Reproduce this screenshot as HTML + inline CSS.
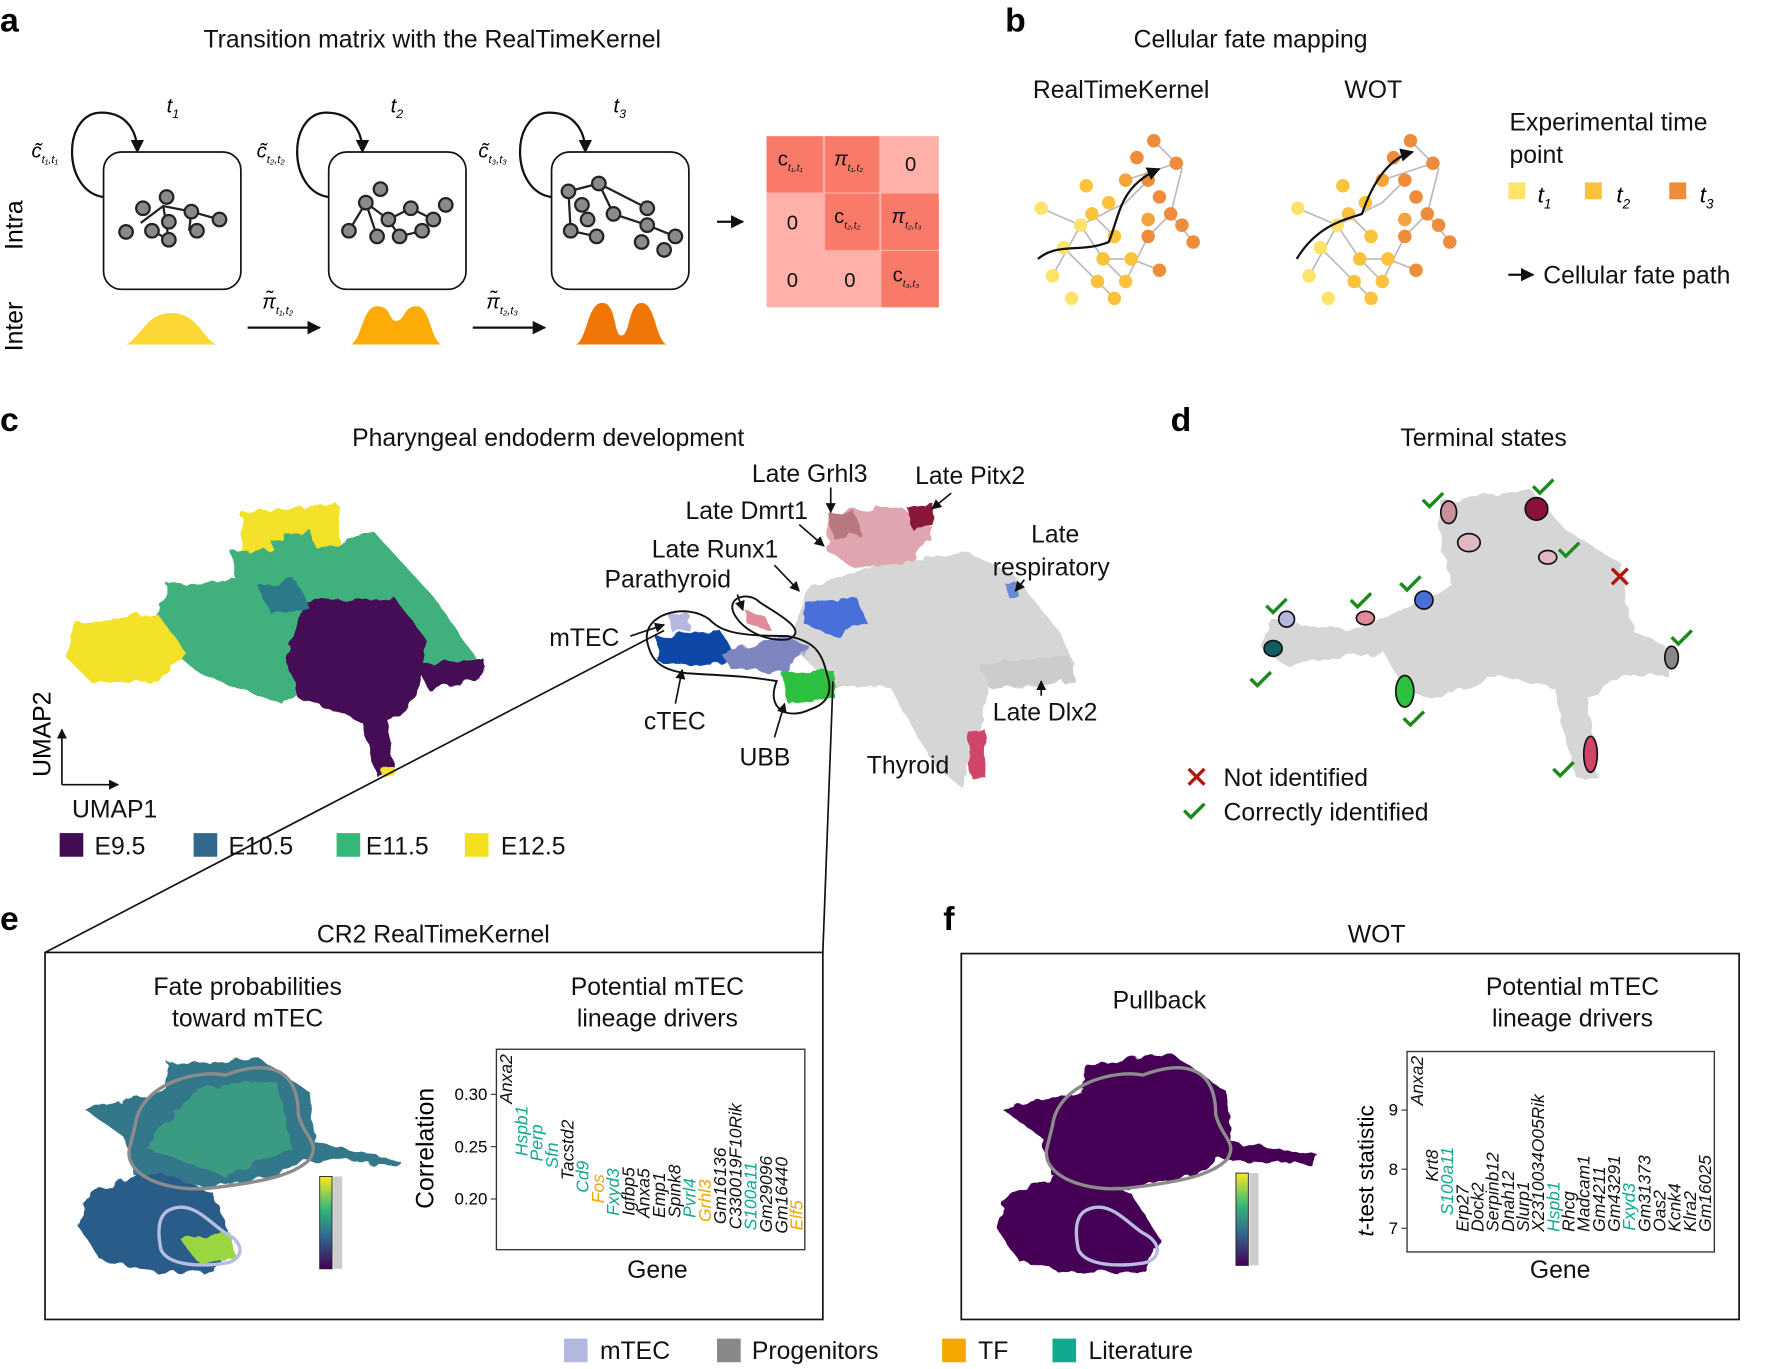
<!DOCTYPE html>
<html><head><meta charset="utf-8"><style>
html,body{margin:0;padding:0;background:#fff;}
svg{display:block;font-family:"Liberation Sans",sans-serif;}
.t{font-size:22px;fill:#111}
.g{font-size:15.5px;font-style:italic}
</style></head><body>
<svg id="fig" width="1765" height="1369" viewBox="0 0 1568 1216" preserveAspectRatio="none">
<defs>
<marker id="ah" viewBox="0 0 10 10" refX="9" refY="5" markerWidth="6" markerHeight="6" orient="auto"><path d="M0,0L10,5L0,10z" fill="#111"/></marker>
<linearGradient id="vir" x1="0" y1="1" x2="0" y2="0"><stop offset="0" stop-color="#440154"/><stop offset="0.35" stop-color="#31688e"/><stop offset="0.65" stop-color="#35b779"/><stop offset="1" stop-color="#fde725"/></linearGradient>
<filter id="rough"><feTurbulence type="fractalNoise" baseFrequency="0.08" numOctaves="2" result="n"/><feDisplacementMap in="SourceGraphic" in2="n" scale="10"/></filter>
</defs>

<!-- Panel a -->
<g>
<text x="0" y="28" font-size="30" font-weight="bold">a</text>
<text x="384" y="42" class="t" text-anchor="middle">Transition matrix with the RealTimeKernel</text>
<text x="20" y="200" font-size="22" transform="rotate(-90 20 200)" text-anchor="middle">Intra</text>
<text x="20" y="290" font-size="22" transform="rotate(-90 20 290)" text-anchor="middle">Inter</text>
<g fill="none" stroke="#111" stroke-width="1.5">
<rect x="92" y="135" width="122" height="122" rx="16"/>
<rect x="292" y="135" width="122" height="122" rx="16"/>
<rect x="490" y="135" width="122" height="122" rx="16"/>
<path d="M92,175 C55,170 55,100 90,100 C115,100 122,120 122,135" stroke-width="2" marker-end="url(#ah)"/>
<path d="M292,175 C255,170 255,100 290,100 C315,100 322,120 322,135" stroke-width="2" marker-end="url(#ah)"/>
<path d="M490,175 C453,170 453,100 488,100 C513,100 520,120 520,135" stroke-width="2" marker-end="url(#ah)"/>
</g>
<g font-size="18" font-style="italic">
<text x="148" y="100">t<tspan font-size="11" dy="5">1</tspan></text>
<text x="347" y="100">t<tspan font-size="11" dy="5">2</tspan></text>
<text x="545" y="100">t<tspan font-size="11" dy="5">3</tspan></text>
<text x="28" y="140">c̃<tspan font-size="10" dy="5">t₁,t₁</tspan></text>
<text x="228" y="140">c̃<tspan font-size="10" dy="5">t₂,t₂</tspan></text>
<text x="425" y="140">c̃<tspan font-size="10" dy="5">t₃,t₃</tspan></text>
<text x="233" y="274">π̃<tspan font-size="10" dy="5">t₁,t₂</tspan></text>
<text x="432" y="274">π̃<tspan font-size="10" dy="5">t₂,t₃</tspan></text>
</g>
<g stroke="#111" stroke-width="2"><line x1="220" y1="291" x2="284" y2="291" marker-end="url(#ah)"/><line x1="420" y1="291" x2="484" y2="291" marker-end="url(#ah)"/><line x1="637" y1="197" x2="660" y2="197" marker-end="url(#ah)"/></g>
<g stroke="#222" stroke-width="2" fill="#8a8a8a">
<path d="M125,198L145,183L170,188L195,195M145,183L150,213M170,188L168,205M150,213L135,205" fill="none"/>
<circle cx="112" cy="206" r="6"/><circle cx="127" cy="185" r="6"/><circle cx="148" cy="175" r="6"/><circle cx="150" cy="197" r="6"/><circle cx="170" cy="188" r="6"/><circle cx="195" cy="195" r="6"/><circle cx="150" cy="213" r="6"/><circle cx="175" cy="205" r="6"/><circle cx="135" cy="205" r="6"/>
<path d="M310,205L325,180L345,195L365,185L385,195M325,180L335,210M345,195L355,210L375,205" fill="none"/>
<circle cx="310" cy="205" r="6"/><circle cx="325" cy="180" r="6"/><circle cx="335" cy="210" r="6"/><circle cx="345" cy="195" r="6"/><circle cx="365" cy="185" r="6"/><circle cx="385" cy="195" r="6"/><circle cx="355" cy="210" r="6"/><circle cx="375" cy="205" r="6"/><circle cx="396" cy="182" r="6"/><circle cx="338" cy="168" r="6"/>
<path d="M505,170L532,163L545,190L575,200L600,210M532,163L575,185M505,170L507,205L530,210" fill="none"/>
<circle cx="505" cy="170" r="6"/><circle cx="532" cy="163" r="6"/><circle cx="517" cy="182" r="6"/><circle cx="507" cy="205" r="6"/><circle cx="530" cy="210" r="6"/><circle cx="545" cy="190" r="6"/><circle cx="575" cy="185" r="6"/><circle cx="575" cy="200" r="6"/><circle cx="600" cy="210" r="6"/><circle cx="570" cy="215" r="6"/><circle cx="590" cy="222" r="6"/><circle cx="522" cy="195" r="6"/>
</g>
<path d="M112,306C125,300 130,278 152,278C175,278 180,300 192,306Z" fill="#fdd835"/>
<path d="M312,306C322,300 322,272 335,272C348,272 345,285 352,285C360,285 358,272 370,272C382,272 382,300 392,306Z" fill="#fdac07"/>
<path d="M512,306C522,300 522,269 535,269C548,269 545,298 552,298C560,298 558,269 570,269C582,269 582,300 592,306Z" fill="#f07706"/>
<g>
<rect x="681" y="121" width="153" height="152" fill="#ffb0a8"/>
<rect x="681" y="121" width="50" height="50" fill="#fa7a6a"/><rect x="733" y="121" width="48" height="50" fill="#fa7a6a"/>
<rect x="733" y="172" width="48" height="50" fill="#fa7a6a"/><rect x="783" y="172" width="51" height="50" fill="#fa7a6a"/>
<rect x="783" y="223" width="51" height="50" fill="#fa7a6a"/>
<g font-size="18" fill="#111"><text x="691" y="147">c<tspan font-size="9" dy="5" font-style="italic">t₁,t₁</tspan></text><text x="741" y="147" font-style="italic">π<tspan font-size="9" dy="5">t₁,t₂</tspan></text><text x="804" y="152">0</text>
<text x="699" y="204">0</text><text x="741" y="198">c<tspan font-size="9" dy="5" font-style="italic">t₂,t₂</tspan></text><text x="792" y="198" font-style="italic">π<tspan font-size="9" dy="5">t₂,t₃</tspan></text>
<text x="699" y="255">0</text><text x="750" y="255">0</text><text x="793" y="250">c<tspan font-size="9" dy="5" font-style="italic">t₃,t₃</tspan></text></g>
</g>
</g>

<!-- Panel b -->
<g>
<text x="893" y="28" font-size="30" font-weight="bold">b</text>
<text x="1111" y="42" class="t" text-anchor="middle">Cellular fate mapping</text>
<text x="996" y="87" class="t" text-anchor="middle">RealTimeKernel</text>
<text x="1220" y="87" class="t" text-anchor="middle">WOT</text>
<g id="net1" stroke="#bbb" stroke-width="1.5">
<path d="M925,185L960,200L980,230L1000,250L1020,210L1040,190L1050,150L1025,125M945,220L975,250L990,265M960,200L1000,180L1020,160M1040,190L1060,215M1005,230L1030,240M935,245L960,200M1000,160L1045,145M980,230L1005,230M970,190L990,210" fill="none"/>
<g stroke="none">
<circle cx="925" cy="185" r="6" fill="#fde36a"/><circle cx="945" cy="220" r="6" fill="#fde36a"/><circle cx="935" cy="245" r="6" fill="#fde36a"/><circle cx="952" cy="265" r="6" fill="#fde36a"/><circle cx="960" cy="200" r="6" fill="#fde36a"/><circle cx="975" cy="250" r="6" fill="#fbc23c"/><circle cx="990" cy="265" r="6" fill="#fbc23c"/><circle cx="1000" cy="250" r="6" fill="#fbc23c"/><circle cx="980" cy="230" r="6" fill="#fbc23c"/><circle cx="1005" cy="230" r="6" fill="#fbc23c"/><circle cx="970" cy="190" r="6" fill="#fbc23c"/><circle cx="990" cy="210" r="6" fill="#fbc23c"/><circle cx="985" cy="180" r="6" fill="#fbc23c"/><circle cx="1000" cy="160" r="6" fill="#f4a23a"/><circle cx="1020" cy="160" r="6" fill="#ef8c3c"/><circle cx="1025" cy="125" r="6" fill="#ef8c3c"/><circle cx="1045" cy="145" r="6" fill="#ef8c3c"/><circle cx="1040" cy="190" r="6" fill="#ef8c3c"/><circle cx="1060" cy="215" r="6" fill="#ef8c3c"/><circle cx="1050" cy="200" r="6" fill="#ef8c3c"/><circle cx="1030" cy="240" r="6" fill="#ef8c3c"/><circle cx="1020" cy="210" r="6" fill="#ef8c3c"/><circle cx="1030" cy="175" r="6" fill="#ef8c3c"/><circle cx="1010" cy="140" r="6" fill="#ef8c3c"/><circle cx="1020" cy="195" r="6" fill="#f4a23a"/><circle cx="965" cy="165" r="6" fill="#fbc23c"/>
</g></g>
<path d="M922,230C940,215 960,225 985,215C995,190 995,165 1030,150" fill="none" stroke="#111" stroke-width="2" marker-end="url(#ah)"/>
<use href="#net1" x="228" y="0"/>
<path d="M1152,230C1170,200 1195,195 1210,190C1220,160 1235,140 1255,135" fill="none" stroke="#111" stroke-width="2" marker-end="url(#ah)"/>
<text x="1341" y="116" class="t">Experimental time</text>
<text x="1341" y="145" class="t">point</text>
<rect x="1340" y="162" width="15" height="15" fill="#fde36a"/><text x="1366" y="180" font-size="20" font-style="italic">t<tspan font-size="12" dy="5">1</tspan></text>
<rect x="1408" y="162" width="15" height="15" fill="#fbc23c"/><text x="1436" y="180" font-size="20" font-style="italic">t<tspan font-size="12" dy="5">2</tspan></text>
<rect x="1483" y="162" width="15" height="15" fill="#ef8c3c"/><text x="1510" y="180" font-size="20" font-style="italic">t<tspan font-size="12" dy="5">3</tspan></text>
<line x1="1340" y1="244" x2="1362" y2="244" stroke="#111" stroke-width="2" marker-end="url(#ah)"/>
<text x="1371" y="252" class="t">Cellular fate path</text>
</g>

<!-- Panel c -->
<g>
<text x="0" y="383" font-size="30" font-weight="bold">c</text>
<text x="487" y="396" class="t" text-anchor="middle">Pharyngeal endoderm development</text>
<g filter="url(#rough)">
<path d="M215,455L300,448L305,520L260,545L215,540Z" fill="#f3e12a"/>
<path d="M205,490L300,485L330,470L385,530L430,595L380,600L300,600L250,625L180,600L130,560L150,520L210,515Z" fill="#3fb07b"/>
<path d="M240,480L275,470L285,500L250,505Z" fill="#3fb07b"/>
<path d="M65,555L140,545L165,580L140,605L80,605L60,585Z" fill="#f3e12a"/>
<path d="M270,535L350,530L380,570L370,620L345,640L350,685L335,690L320,640L265,620L255,585Z" fill="#440b55"/>
<path d="M370,590L430,585L428,605L380,612Z" fill="#440b55"/>
<path d="M230,520L262,515L275,540L240,545Z" fill="#2a7a8a"/>
<circle cx="345" cy="685" r="6" fill="#f3e12a"/>
</g>
<g stroke="#111" stroke-width="1.5"><line x1="55" y1="697" x2="55" y2="648" marker-end="url(#ah)"/><line x1="55" y1="697" x2="105" y2="697" marker-end="url(#ah)"/></g>
<text x="45" y="690" font-size="22" transform="rotate(-90 45 690)">UMAP2</text>
<text x="64" y="726" class="t">UMAP1</text>
<g>
<rect x="53" y="740" width="21" height="21" fill="#440b55"/><text x="84" y="759" class="t">E9.5</text>
<rect x="172" y="740" width="21" height="21" fill="#31688e"/><text x="203" y="759" class="t">E10.5</text>
<rect x="299" y="740" width="21" height="21" fill="#35b779"/><text x="325" y="759" class="t">E11.5</text>
<rect x="413" y="740" width="21" height="21" fill="#f5e01f"/><text x="445" y="759" class="t">E12.5</text>
</g>
<g filter="url(#rough)">
<path d="M720,520L790,500L860,490L900,510L940,560L955,590L920,610L880,610L870,650L855,700L830,680L790,610L740,610L700,570Z" fill="#d6d6d6"/>
<path d="M870,590L950,582L955,605L880,612Z" fill="#ccc"/>
<path d="M735,455L800,450L830,470L810,500L760,505L735,490Z" fill="#e0a6b0"/>
<path d="M735,455L760,455L765,475L740,478Z" fill="#b7787f"/>
<path d="M805,450L830,448L830,468L810,470Z" fill="#8a1238"/>
<path d="M715,535L760,530L772,555L740,565L715,555Z" fill="#4a70d8"/>
<path d="M582,565L640,560L655,585L620,592L585,588Z" fill="#0d46a8"/>
<path d="M640,580L700,565L720,575L700,597L650,595Z" fill="#7d86c0"/>
<path d="M595,545L612,545L612,560L595,560Z" fill="#b4b8e0"/>
<path d="M660,540L680,548L685,560L665,555Z" fill="#e08a9a"/>
<path d="M695,597L740,595L742,620L700,625Z" fill="#2ec040"/>
<path d="M860,650L875,648L875,690L862,690Z" fill="#d0446a"/>
<path d="M895,520L905,518L905,530L895,530Z" fill="#6a8ad8"/>
</g>
<g fill="none" stroke="#111" stroke-width="1.7">
<path d="M575,570C570,545 610,535 630,550C640,560 650,565 700,565C725,570 730,580 735,600C740,615 735,625 720,630C700,640 680,630 690,605C660,600 640,600 610,598C585,595 578,585 575,570Z"/>
<path d="M652,545C645,530 665,525 675,535C690,545 720,560 700,568C680,570 660,560 652,545Z"/>
</g>
<g font-size="22" fill="#111">
<text x="668" y="428">Late Grhl3</text><text x="813" y="430">Late Pitx2</text>
<text x="609" y="461">Late Dmrt1</text><text x="916" y="482">Late</text><text x="882" y="511">respiratory</text>
<text x="579" y="495">Late Runx1</text><text x="537" y="522">Parathyroid</text>
<text x="488" y="574">mTEC</text><text x="572" y="648">cTEC</text><text x="657" y="680">UBB</text>
<text x="882" y="640">Late Dlx2</text><text x="770" y="687">Thyroid</text>
</g>
<g stroke="#111" stroke-width="1.5" marker-end="url(#ah)">
<line x1="738" y1="433" x2="738" y2="455"/><line x1="845" y1="438" x2="828" y2="452"/>
<line x1="710" y1="466" x2="732" y2="485"/><line x1="688" y1="502" x2="710" y2="525"/>
<line x1="655" y1="528" x2="660" y2="542"/><line x1="560" y1="565" x2="590" y2="555"/>
<line x1="910" y1="515" x2="902" y2="525"/><line x1="600" y1="625" x2="606" y2="595"/>
<line x1="688" y1="655" x2="697" y2="625"/><line x1="925" y1="618" x2="925" y2="605"/>
</g>
<line x1="40" y1="846" x2="590" y2="560" stroke="#111" stroke-width="1.5"/>
<line x1="731" y1="846" x2="740" y2="605" stroke="#111" stroke-width="1.5"/>
</g>

<!-- Panel d -->
<g>
<text x="1040" y="383" font-size="30" font-weight="bold">d</text>
<text x="1318" y="396" class="t" text-anchor="middle">Terminal states</text>
<g filter="url(#rough)"><path d="M1280,445L1360,435L1390,470L1440,500L1450,560L1480,575L1480,600L1440,600L1410,620L1420,690L1400,690L1380,610L1330,600L1280,620L1250,615L1230,580L1180,585L1140,590L1120,575L1130,550L1200,560L1250,540L1290,520L1280,480Z" fill="#d6d6d6"/></g>
<g stroke="#111" stroke-width="1.5">
<ellipse cx="1287" cy="455" rx="7" ry="10" fill="#c8909a"/><ellipse cx="1365" cy="452" rx="10" ry="10" fill="#8a1238"/>
<ellipse cx="1305" cy="482" rx="10" ry="8" fill="#e0b8c0"/><ellipse cx="1375" cy="495" rx="8" ry="6" fill="#e0b8c0"/>
<ellipse cx="1265" cy="533" rx="8" ry="8" fill="#4a70d8"/><ellipse cx="1213" cy="549" rx="8" ry="6" fill="#e08a9a"/>
<ellipse cx="1143" cy="550" rx="7" ry="7" fill="#b4b8e0"/><ellipse cx="1131" cy="576" rx="8" ry="7" fill="#0f5e62"/>
<ellipse cx="1248" cy="614" rx="8" ry="14" fill="#2ec040"/><ellipse cx="1485" cy="584" rx="6" ry="10" fill="#888"/>
<ellipse cx="1413" cy="670" rx="6" ry="16" fill="#d0446a"/>
</g>
<g fill="none" stroke="#1a8a1a" stroke-width="3">
<path d="M1264,444l6,6l12,-12"/><path d="M1362,432l6,6l12,-12"/><path d="M1385,488l6,6l12,-12"/>
<path d="M1244,518l6,6l12,-12"/><path d="M1200,533l6,6l12,-12"/><path d="M1125,538l6,6l12,-12"/>
<path d="M1111,603l6,6l12,-12"/><path d="M1247,638l6,6l12,-12"/><path d="M1485,566l6,6l12,-12"/>
<path d="M1380,683l6,6l12,-12"/><path d="M1052,720l6,6l12,-12"/>
</g>
<g stroke="#b0180f" stroke-width="3"><path d="M1432,505l14,14M1446,505l-14,14"/><path d="M1056,683l14,14M1070,683l-14,14"/></g>
<text x="1087" y="698" class="t">Not identified</text>
<text x="1087" y="729" class="t">Correctly identified</text>
</g>

<!-- Panel e -->
<g>
<text x="0" y="826" font-size="30" font-weight="bold">e</text>
<text x="385" y="837" class="t" text-anchor="middle">CR2 RealTimeKernel</text>
<rect x="40" y="846" width="691" height="326" fill="none" stroke="#111" stroke-width="1.5"/>
<text x="220" y="884" class="t" text-anchor="middle">Fate probabilities</text>
<text x="220" y="912" class="t" text-anchor="middle">toward mTEC</text>
<text x="584" y="884" class="t" text-anchor="middle">Potential mTEC</text>
<text x="584" y="912" class="t" text-anchor="middle">lineage drivers</text>
<g filter="url(#rough)">
<path d="M150,945L230,940L275,970L280,1015L355,1030L350,1035L270,1030L240,1045L185,1055L120,1045L110,1010L75,985L145,970Z" fill="#30788a"/>
<path d="M80,1060L140,1040L190,1060L205,1100L190,1130L140,1130L90,1120L70,1090Z" fill="#2b5c8a"/>
<path d="M160,1100L205,1095L210,1118L175,1120Z" fill="#9ad640"/>
<path d="M175,965L245,960L260,1020L200,1045L130,1020Z" fill="#3b9a82"/>
</g>
<path d="M120,1000C125,960 180,950 200,955C240,940 265,950 265,990C270,1010 285,1015 275,1030C260,1045 230,1050 190,1055C150,1060 110,1045 115,1020Z" fill="none" stroke="#8c8c8c" stroke-width="3"/>
<path d="M150,1075C170,1065 185,1085 200,1095C220,1105 215,1120 200,1122C180,1125 150,1125 143,1110C140,1095 140,1080 150,1075Z" fill="none" stroke="#b8bce0" stroke-width="3"/>
<rect x="284" y="1045" width="11" height="82" fill="url(#vir)" stroke="#222" stroke-width="0.8"/>
<path d="M296,1045L304,1045L304,1127L296,1127Z" fill="#ccc"/>
<text x="385" y="1020" font-size="22" transform="rotate(-90 385 1020)" text-anchor="middle">Correlation</text>
<g id="chartE"></g>
<text x="584" y="1135" class="t" text-anchor="middle">Gene</text>
</g>

<!-- Panel f -->
<g>
<text x="838" y="826" font-size="30" font-weight="bold">f</text>
<text x="1223" y="837" class="t" text-anchor="middle">WOT</text>
<rect x="854" y="847" width="691" height="325" fill="none" stroke="#111" stroke-width="1.5"/>
<text x="1030" y="896" class="t" text-anchor="middle">Pullback</text>
<text x="1397" y="884" class="t" text-anchor="middle">Potential mTEC</text>
<text x="1397" y="912" class="t" text-anchor="middle">lineage drivers</text>
<g filter="url(#rough)">
<path d="M965,945L1040,935L1090,970L1095,1015L1170,1025L1165,1035L1085,1030L1060,1045L1000,1055L935,1045L925,1010L890,985L960,970Z" fill="#440154"/>
<path d="M895,1060L955,1040L1005,1060L1030,1100L1015,1130L955,1130L905,1120L885,1090Z" fill="#440154"/>
</g>
<path d="M935,1000C940,960 995,950 1015,955C1055,940 1080,950 1080,990C1085,1010 1100,1015 1090,1030C1075,1045 1045,1050 1005,1055C965,1060 925,1045 930,1020Z" fill="none" stroke="#8c8c8c" stroke-width="3"/>
<path d="M965,1075C985,1065 1000,1085 1015,1095C1035,1105 1030,1120 1015,1122C995,1125 965,1125 958,1110C955,1095 955,1080 965,1075Z" fill="none" stroke="#b8bce0" stroke-width="3"/>
<rect x="1098" y="1042" width="11" height="82" fill="url(#vir)" stroke="#222" stroke-width="0.8"/>
<path d="M1110,1042L1118,1042L1118,1124L1110,1124Z" fill="#ccc"/>
<text x="1220" y="1040" font-size="20" transform="rotate(-90 1220 1040)" text-anchor="middle"><tspan font-style="italic">t</tspan>-test statistic</text>
<g id="chartF"></g>
<text x="1386" y="1135" class="t" text-anchor="middle">Gene</text>
</g>

<!-- bottom legend -->
<g>
<rect x="501" y="1189" width="21" height="21" fill="#b4b8e0"/><text x="533" y="1207" class="t">mTEC</text>
<rect x="637" y="1189" width="21" height="21" fill="#888"/><text x="668" y="1207" class="t">Progenitors</text>
<rect x="837" y="1189" width="21" height="21" fill="#f7a600"/><text x="869" y="1207" class="t">TF</text>
<rect x="935" y="1189" width="21" height="21" fill="#11a98f"/><text x="967" y="1207" class="t">Literature</text>
</g>
</svg>
<script>
const NS="http://www.w3.org/2000/svg";
const COL={n:"#111",l:"#11a98f",t:"#f0a800"};
// Panel e data
const genesE=["Anxa2","Hspb1","Perp","Sfn","Tacstd2","Cd9","Fos","Fxyd3","Igfbp5","Anxa5","Emp1","Spink8","Pvrl4","Grhl3","Gm16136","C330019F10Rik","S100a11","Gm29096","Gm16440","Elf5"];
const valuesE=[0.291,0.241,0.236,0.229,0.218,0.206,0.196,0.184,0.184,0.182,0.182,0.182,0.182,0.178,0.176,0.171,0.170,0.168,0.167,0.170];
const typesE=["n","l","l","l","n","l","t","l","n","n","n","n","l","t","n","n","l","n","n","t"];
const ticksE=[0.20,0.25,0.30];
const tickLabelsE=["0.20","0.25","0.30"];
// Panel f data
const genesF=["Anxa2","Krt8","S100a11","Erp27","Dock2","Serpinb12","Dnah12","Slurp1","X2310034O05Rik","Hspb1","Rhcg","Madcam1","Gm4211","Gm43291","Fxyd3","Gm31373","Oas2","Kcnk4","Klra2","Gm16025"];
const valuesF=[9.08,7.79,7.22,6.94,6.94,6.94,6.94,6.94,6.94,6.94,6.94,6.94,6.94,6.94,6.96,6.94,6.94,6.94,6.94,6.94];
const typesF=["n","n","l","n","n","n","n","n","n","l","n","n","n","n","l","n","n","n","n","n"];
const ticksF=[7,8,9];
const tickLabelsF=["7","8","9"];

function drawChart(g,box,yDom,genes,vals,types,ticks,labels,x0,x1){
  const [bx,by,bw,bh]=box;
  const yS=v=>yDom[2]+(v-yDom[0])/(yDom[1]-yDom[0])*(yDom[3]-yDom[2]);
  const xS=i=>x0+i*(x1-x0)/(genes.length-1);
  const r=document.createElementNS(NS,"rect");
  r.setAttribute("x",bx);r.setAttribute("y",by);r.setAttribute("width",bw);r.setAttribute("height",bh);
  r.setAttribute("fill","none");r.setAttribute("stroke","#333");r.setAttribute("stroke-width","1.2");
  
  
  g.appendChild(r);
  ticks.forEach((t,i)=>{
    const y=yS(t);
    const l=document.createElementNS(NS,"line");
    l.setAttribute("x1",bx-5);l.setAttribute("x2",bx);l.setAttribute("y1",y);l.setAttribute("y2",y);l.setAttribute("stroke","#333");
    
    
    g.appendChild(l);
    const tx=document.createElementNS(NS,"text");
    tx.setAttribute("x",bx-8);tx.setAttribute("y",y+5);tx.setAttribute("text-anchor","end");tx.setAttribute("font-size","15");
    tx.textContent=labels[i];
    
    
    g.appendChild(tx);
  });
  genes.forEach((gn,i)=>{
    const x=xS(i)+5,y=yS(vals[i]);
    const t=document.createElementNS(NS,"text");
    t.setAttribute("x",x);t.setAttribute("y",y);
    t.setAttribute("transform","rotate(-90 "+x+" "+y+")");
    t.setAttribute("class","g");t.setAttribute("fill",COL[types[i]]);
    t.textContent=gn;
    
    
    g.appendChild(t);
  });
}
drawChart(document.getElementById("chartE"),[441,932,274,178],[0.20,0.30,1065,972],genesE,valuesE,typesE,ticksE,tickLabelsE,450,708);
drawChart(document.getElementById("chartF"),[1250,934,273,178],[7,9,1091,986],genesF,valuesF,typesF,ticksF,tickLabelsF,1259,1515);
</script>
</body></html>
